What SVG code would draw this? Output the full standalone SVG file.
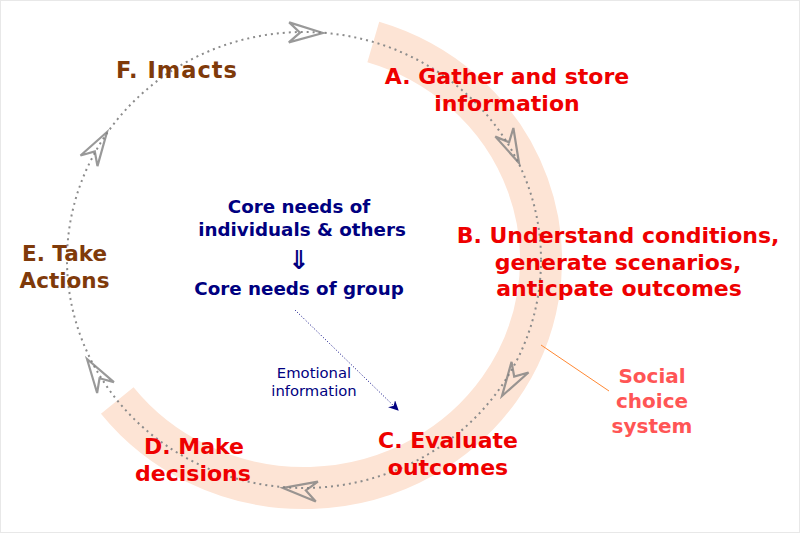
<svg xmlns="http://www.w3.org/2000/svg" width="800" height="533" viewBox="0 0 800 533">
<style>
.t{font-family:"DejaVu Sans","Verdana",sans-serif;font-weight:bold;text-anchor:middle}
.red{fill:#ee0000;font-size:22px}
.brown{fill:#7f3a0a;font-size:21.5px}
.navy{fill:#000080;font-size:18.3px}
.emo{font-family:"DejaVu Sans",sans-serif;fill:#000080;font-size:14.8px;text-anchor:middle}
.soc{fill:#ff5555;font-size:20px}
.ah{fill:none;stroke:#808080;stroke-opacity:0.8;stroke-width:2.2;stroke-linejoin:miter}
</style>
<defs>
<path id="head" d="M0,0 L-34,-10 L-23,0 L-34,10 Z"/>
<marker id="navyArrow" viewBox="0 0 10 10" refX="9" refY="5" markerWidth="10" markerHeight="10" markerUnits="userSpaceOnUse" orient="auto">
<path d="M0,0 L10,5 L0,10 L3,5 Z" fill="#000080"/>
</marker>
</defs>
<rect x="0.5" y="0.5" width="799" height="532" fill="#ffffff" stroke="#e8e8e8" stroke-width="1"/>
<g id="social-choice-band">
<path d="M373.3,42 A237,228 0 1 1 117.25,400.4" fill="none" stroke="#fde4d5" stroke-width="42"/>
</g>
<g id="connectors">
<ellipse cx="304" cy="260" rx="237" ry="228" fill="none" stroke="#8c8c8c" stroke-width="2" stroke-dasharray="2 4"/>
<use href="#head" class="ah" transform="translate(323,33) rotate(1)"/>
<use href="#head" class="ah" transform="translate(519,163) rotate(64.5)"/>
<use href="#head" class="ah" transform="translate(502,396) rotate(122)"/>
<use href="#head" class="ah" transform="translate(283,488) rotate(186)"/>
<use href="#head" class="ah" transform="translate(87,359) rotate(237)"/>
<use href="#head" class="ah" transform="translate(107,132) rotate(302)"/>
<line x1="295" y1="310" x2="398" y2="410" stroke="#000080" stroke-width="1" stroke-dasharray="1 2" marker-end="url(#navyArrow)"/>
<line x1="541" y1="345" x2="609" y2="391" stroke="#ff8833" stroke-width="1"/>
</g>
<g id="nodeA">
<text class="t red" x="507" y="84">A. Gather and store</text>
<text class="t red" x="507" y="111">information</text>
</g>
<g id="nodeB">
<text class="t red" x="618" y="243">B. Understand conditions,</text>
<text class="t red" x="618" y="270">generate scenarios,</text>
<text class="t red" x="619" y="296">anticpate outcomes</text>
</g>
<g id="nodeC">
<text class="t red" x="448" y="448">C. Evaluate</text>
<text class="t red" x="448" y="475">outcomes</text>
</g>
<g id="nodeD">
<text class="t red" x="194" y="454">D. Make</text>
<text class="t red" x="193" y="481">decisions</text>
</g>
<g id="nodeE">
<text class="t brown" x="64.5" y="261">E. Take</text>
<text class="t brown" x="64.5" y="288">Actions</text>
</g>
<g id="nodeF">
<text class="t brown" x="177" y="78" letter-spacing="1" style="font-size:22.5px">F. Imacts</text>
</g>
<g id="core">
<text class="t navy" x="299" y="213">Core needs of</text>
<text class="t navy" x="302" y="236">individuals &amp; others</text>
<text class="t navy" x="299" y="269" style="font-size:26px">⇓</text>
<text class="t navy" x="299" y="295">Core needs of group</text>
</g>
<g id="emotional">
<text class="emo" x="314" y="378">Emotional</text>
<text class="emo" x="314" y="396">information</text>
</g>
<g id="social">
<text class="t soc" x="652" y="383">Social</text>
<text class="t soc" x="652" y="408">choice</text>
<text class="t soc" x="652" y="433">system</text>
</g>
</svg>
